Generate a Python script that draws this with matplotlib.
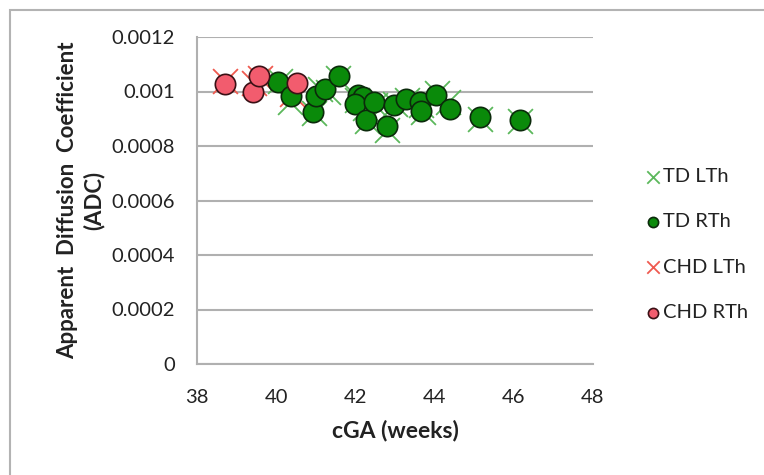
import matplotlib
matplotlib.use("Agg")
import matplotlib.pyplot as plt
from matplotlib.patches import Rectangle

# Corrected gestational age (weeks) and thalamic ADC values
td_rth_cga = [40.05, 40.37, 40.93, 41.01, 41.24, 41.59, 42.06, 42.2, 42.0, 42.27,
              42.47, 42.80, 42.98, 43.27, 43.62, 43.66, 44.03, 44.38, 45.14, 46.16]
td_rth_adc = [0.001035, 0.000983, 0.000924, 0.000983, 0.001008, 0.001057, 0.000986,
              0.000980, 0.000955, 0.000896, 0.000961, 0.000875, 0.000949, 0.000974,
              0.000961, 0.000928, 0.000986, 0.000937, 0.000908, 0.000895]

td_lth_cga = [40.1, 40.35, 40.95, 41.1, 41.3, 41.55, 42.05, 42.25, 42.3, 42.5,
              42.8, 43.0, 43.3, 43.65, 43.7, 44.05, 44.35, 45.14, 46.15]
td_lth_adc = [0.001040, 0.000960, 0.000920, 0.001010, 0.001000, 0.001050, 0.000970,
              0.000940, 0.000890, 0.000950, 0.000860, 0.000955, 0.000970, 0.000950,
              0.000925, 0.000995, 0.000960, 0.000900, 0.000890]

chd_rth_cga = [38.70, 39.41, 39.57, 40.53]
chd_rth_adc = [0.001029, 0.000998, 0.001056, 0.001031]

chd_lth_cga = [38.70, 39.45, 39.60, 40.40]
chd_lth_adc = [0.001040, 0.001030, 0.001050, 0.000990]

x_ticks = [38, 40, 42, 44, 46, 48]
y_ticks = [0, 0.0002, 0.0004, 0.0006, 0.0008, 0.001, 0.0012]
y_tick_labels = ["0", "0.0002", "0.0004", "0.0006", "0.0008", "0.001", "0.0012"]

plt.rcParams['font.family'] = ['Lato', 'DejaVu Sans']

W, H = 764, 475
fig = plt.figure(figsize=(W / 100, H / 100), dpi=100)
fig.patch.set_facecolor("white")

# Chart-area frame
fig.add_artist(Rectangle((10 / W, -0.05), 1.2, (H - 10) / H + 0.05,
                         transform=fig.transFigure, fill=False,
                         edgecolor="#b3b3b3", linewidth=1.5))

ax = fig.add_axes([197 / W, 1 - 364 / H, (593 - 197) / W, (364 - 37) / H])

green = "#0a8a0a"
green_x = "#5cb85c"
pink = "#f25c6e"
red_x = "#ef5a50"

ax.scatter(td_lth_cga, td_lth_adc, marker="x", s=320, c=green_x, linewidths=1.3,
           label="TD LTh", zorder=3)
ax.scatter(td_rth_cga, td_rth_adc, marker="o", s=215, c=green, edgecolors="#0b2a0b",
           linewidths=1.2, label="TD RTh", zorder=4)
ax.scatter(chd_lth_cga, chd_lth_adc, marker="x", s=320, c=red_x, linewidths=1.3,
           label="CHD LTh", zorder=3)
ax.scatter(chd_rth_cga, chd_rth_adc, marker="o", s=215, c=pink, edgecolors="#3a1015",
           linewidths=1.2, label="CHD RTh", zorder=4)

ax.set_xlim(38, 48)
ax.set_ylim(0, 0.0012)
ax.set_xticks(x_ticks)
ax.set_xticklabels([str(v) for v in x_ticks])
ax.set_yticks(y_ticks)
ax.set_yticklabels(y_tick_labels)
ax.tick_params(axis="both", length=0, labelsize=14.5, colors="#222222")
ax.tick_params(axis="x", pad=18)
ax.tick_params(axis="y", pad=16)

ax.yaxis.grid(True, color="#b0b0b0", linewidth=1.5)
ax.set_axisbelow(True)
for side in ("top", "right"):
    ax.spines[side].set_visible(False)
for side in ("left", "bottom"):
    ax.spines[side].set_color("#b0b0b0")
    ax.spines[side].set_linewidth(1.5)

ax.set_xlabel("cGA (weeks)", fontsize=16.5, fontweight="bold", color="#222222", labelpad=10)
ax.set_ylabel("Apparent  Diffusion  Coefficient\n(ADC)", fontsize=16, fontweight="bold",
              color="#222222", labelpad=5, linespacing=1.25)

leg = fig.legend(loc="upper left", bbox_to_anchor=(634 / W, 1 - 158 / H),
                 frameon=False, fontsize=14.5, labelspacing=1.4, handletextpad=0.05,
                 handlelength=0.9, markerscale=0.5, borderpad=0)
for t in leg.get_texts():
    t.set_color("#222222")

fig.savefig("out.png", dpi=100, facecolor="white")
